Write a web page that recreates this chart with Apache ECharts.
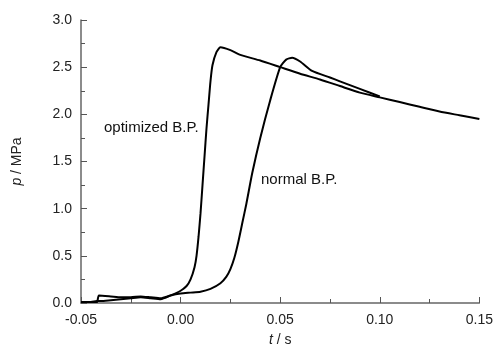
<!DOCTYPE html>
<html>
<head>
<meta charset="utf-8">
<script src="https://cdn.jsdelivr.net/npm/echarts@6/dist/echarts.min.js"></script>
<style>
  html, body { margin: 0; padding: 0; background: #fff; }
  #chart { width: 496px; height: 352px; }
</style>
</head>
<body>
<div id="chart"></div>
<script>
// time (s) and pressure (MPa)
const optT = [-0.05, -0.045, -0.042, -0.04, -0.035, -0.03, -0.025, -0.02, -0.015, -0.01, -0.005, 0, 0.003, 0.005, 0.007, 0.008, 0.009, 0.01, 0.011, 0.012, 0.013, 0.014, 0.015, 0.016, 0.018, 0.02, 0.025, 0.03, 0.04, 0.05, 0.06, 0.07, 0.08, 0.09, 0.1, 0.11, 0.12, 0.13, 0.14, 0.15];
const optP = [0.01, 0.01, 0.02, 0.02, 0.03, 0.04, 0.05, 0.06, 0.05, 0.04, 0.08, 0.13, 0.18, 0.25, 0.38, 0.5, 0.7, 0.95, 1.25, 1.55, 1.85, 2.1, 2.35, 2.52, 2.66, 2.71, 2.68, 2.63, 2.57, 2.5, 2.43, 2.37, 2.3, 2.23, 2.18, 2.13, 2.08, 2.03, 1.99, 1.95];

const normT = [-0.05, -0.045, -0.042, -0.041, -0.035, -0.03, -0.025, -0.02, -0.015, -0.01, -0.005, 0, 0.005, 0.01, 0.015, 0.02, 0.023, 0.025, 0.027, 0.029, 0.031, 0.033, 0.036, 0.04, 0.045, 0.05, 0.053, 0.056, 0.06, 0.066, 0.075, 0.08, 0.09, 0.1];
const normP = [0.01, 0.01, 0.01, 0.08, 0.07, 0.06, 0.06, 0.07, 0.06, 0.05, 0.08, 0.1, 0.11, 0.12, 0.15, 0.21, 0.28, 0.36, 0.48, 0.65, 0.85, 1.05, 1.38, 1.75, 2.15, 2.5, 2.58, 2.6, 2.56, 2.46, 2.39, 2.35, 2.27, 2.19];

const xTicks = [-0.05, 0.15, 0.05];   // min, max, step
const yTicks = [0, 3, 0.5];

const chart = echarts.init(document.getElementById('chart'));

const FONT = 'Liberation Sans, Arial';
const axisCommon = {
  axisLine: { onZero: false, lineStyle: { color: '#666', width: 1.5 } },
  axisTick: { inside: true, length: 6, lineStyle: { color: '#555' } },
  minorTick: { show: true, splitNumber: 2, length: 4, lineStyle: { color: '#555' } },
  splitLine: { show: false },
  axisLabel: { color: '#222', fontSize: 14, fontFamily: FONT },
  nameTextStyle: {
    color: '#222', fontSize: 14, fontFamily: FONT,
    rich: { i: { fontStyle: 'italic', fontSize: 14, color: '#222', fontFamily: FONT } }
  }
};

const pairs = (t, p) => t.map((v, i) => [v, p[i]]);

chart.setOption({
  animation: false,
  backgroundColor: '#fff',
  grid: { left: 81, right: 14, top: 20, bottom: 46 },
  xAxis: Object.assign({}, axisCommon, {
    type: 'value',
    min: xTicks[0], max: xTicks[1], interval: xTicks[2],
    name: '{i|t} / s', nameLocation: 'middle', nameGap: 30,
    axisLabel: Object.assign({}, axisCommon.axisLabel, {
      margin: 10,
      formatter: v => v.toFixed(2)
    })
  }),
  yAxis: Object.assign({}, axisCommon, {
    type: 'value',
    min: yTicks[0], max: yTicks[1], interval: yTicks[2],
    name: '{i|p} / MPa', nameLocation: 'middle', nameGap: 57, nameRotate: 90,
    axisLabel: Object.assign({}, axisCommon.axisLabel, {
      margin: 9,
      formatter: v => v.toFixed(1)
    })
  }),
  series: [
    {
      name: 'optimized B.P.', type: 'line', showSymbol: false, smooth: 0.2,
      data: pairs(optT, optP),
      lineStyle: { color: '#000', width: 2 }
    },
    {
      name: 'normal B.P.', type: 'line', showSymbol: false, smooth: 0.2,
      data: pairs(normT, normP),
      lineStyle: { color: '#000', width: 2 }
    }
  ],
  graphic: [
    { type: 'text', left: 104, top: 120, style: { text: 'optimized B.P.', fill: '#111', font: '15px Liberation Sans, Arial' } },
    { type: 'text', left: 261, top: 172, style: { text: 'normal B.P.', fill: '#111', font: '15px Liberation Sans, Arial' } }
  ]
});
</script>
</body>
</html>
